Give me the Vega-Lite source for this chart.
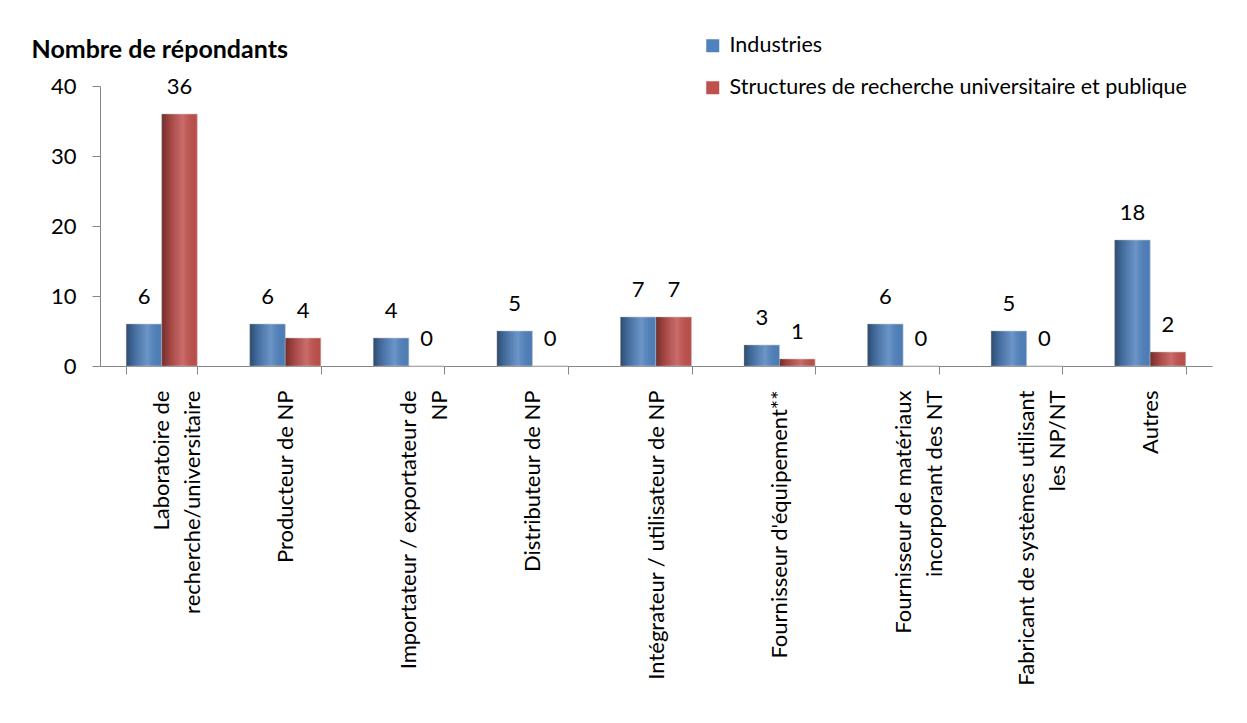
{
  "$schema": "https://vega.github.io/schema/vega-lite/v6.json",
  "autosize": {"type": "none"},
  "padding": {"left": 100, "top": 86, "right": 35, "bottom": 357},
  "width": 1112,
  "height": 280,
  "background": "white",
  "config": {
    "font": "Lato",
    "view": {"stroke": null},
    "axis": {"labelColor": "black", "titleColor": "black", "labelFont": "Lato", "titleFont": "Lato"},
    "legend": {"labelFont": "Lato"}
  },
  "data": {
    "values": [
      {"categorie": "Laboratoire de recherche/universitaire", "serie": "Industries", "n": 6},
      {"categorie": "Laboratoire de recherche/universitaire", "serie": "Structures de recherche universitaire et publique", "n": 36},
      {"categorie": "Producteur de NP", "serie": "Industries", "n": 6},
      {"categorie": "Producteur de NP", "serie": "Structures de recherche universitaire et publique", "n": 4},
      {"categorie": "Importateur / exportateur de NP", "serie": "Industries", "n": 4},
      {"categorie": "Importateur / exportateur de NP", "serie": "Structures de recherche universitaire et publique", "n": 0},
      {"categorie": "Distributeur de NP", "serie": "Industries", "n": 5},
      {"categorie": "Distributeur de NP", "serie": "Structures de recherche universitaire et publique", "n": 0},
      {"categorie": "Intégrateur / utilisateur de NP", "serie": "Industries", "n": 7},
      {"categorie": "Intégrateur / utilisateur de NP", "serie": "Structures de recherche universitaire et publique", "n": 7},
      {"categorie": "Fournisseur d'équipement**", "serie": "Industries", "n": 3},
      {"categorie": "Fournisseur d'équipement**", "serie": "Structures de recherche universitaire et publique", "n": 1},
      {"categorie": "Fournisseur de matériaux incorporant des NT", "serie": "Industries", "n": 6},
      {"categorie": "Fournisseur de matériaux incorporant des NT", "serie": "Structures de recherche universitaire et publique", "n": 0},
      {"categorie": "Fabricant de systèmes utilisant les NP/NT", "serie": "Industries", "n": 5},
      {"categorie": "Fabricant de systèmes utilisant les NP/NT", "serie": "Structures de recherche universitaire et publique", "n": 0},
      {"categorie": "Autres", "serie": "Industries", "n": 18},
      {"categorie": "Autres", "serie": "Structures de recherche universitaire et publique", "n": 2}
    ]
  },
  "encoding": {
    "x": {
      "field": "categorie",
      "type": "nominal",
      "sort": null,
      "scale": {"paddingInner": 0.425, "paddingOuter": 0.2125},
      "axis": {
        "title": null,
        "tickBand": "extent",
        "domainColor": "#868686",
        "tickColor": "#868686",
        "tickSize": 8,
        "labelAngle": 270,
        "labelAlign": "right",
        "labelBaseline": "middle",
        "labelFontSize": 22,
        "labelLineHeight": 31,
        "labelPadding": 16,
        "labelLimit": 500,
        "labelExpr": "datum.value == 'Laboratoire de recherche/universitaire' ? ['Laboratoire de', 'recherche/universitaire'] : datum.value == 'Importateur / exportateur de NP' ? ['Importateur / exportateur de', 'NP'] : datum.value == 'Fournisseur de matériaux incorporant des NT' ? ['Fournisseur de matériaux', 'incorporant des NT'] : datum.value == 'Fabricant de systèmes utilisant les NP/NT' ? ['Fabricant de systèmes utilisant', 'les NP/NT'] : datum.label"
      }
    },
    "xOffset": {"field": "serie", "type": "nominal", "sort": null, "scale": {"paddingInner": 0, "paddingOuter": 0}},
    "y": {
      "field": "n",
      "type": "quantitative",
      "scale": {"domain": [0, 40], "nice": false},
      "axis": {
        "values": [0, 10, 20, 30, 40],
        "grid": false,
        "domainColor": "#868686",
        "tickColor": "#868686",
        "tickSize": 8,
        "labelFontSize": 22,
        "labelPadding": 16,
        "title": "Nombre de répondants",
        "titleAngle": 0,
        "titleAlign": "left",
        "titleBaseline": "alphabetic",
        "titleX": -69,
        "titleY": -29,
        "titleFontSize": 25,
        "titleFontWeight": "bold"
      }
    }
  },
  "layer": [
    {
      "mark": {"type": "bar", "stroke": "#c9c9c9", "strokeWidth": 0.6},
      "encoding": {
        "color": {
          "field": "serie",
          "type": "nominal",
          "sort": null,
          "scale": {
            "domain": ["Industries", "Structures de recherche universitaire et publique"],
            "range": ["#4F81BD", "#C0504D"]
          },
          "legend": {
            "title": null,
            "orient": "none",
            "legendX": 602,
            "legendY": -51,
            "symbolType": "square",
            "symbolSize": 169,
            "symbolStrokeWidth": 0,
            "symbolOpacity": 1,
            "labelFontSize": 21.5,
            "labelColor": "black",
            "labelOffset": 6,
            "labelLimit": 600,
            "rowPadding": 19
          }
        }
      }
    },
    {
      "mark": {
        "type": "bar",
        "fill": {
          "gradient": "linear",
          "x1": 0, "y1": 0, "x2": 1, "y2": 0,
          "stops": [
            {"offset": 0, "color": "rgba(0,0,0,0.42)"},
            {"offset": 0.2, "color": "rgba(0,0,0,0.18)"},
            {"offset": 0.6, "color": "rgba(255,255,255,0.16)"},
            {"offset": 1, "color": "rgba(0,0,0,0.02)"}
          ]
        }
      },
      "encoding": {}
    },
    {
      "mark": {"type": "text", "baseline": "alphabetic", "dy": -20, "fontSize": 22, "color": "black", "font": "Lato"},
      "encoding": {"text": {"field": "n", "type": "quantitative"}}
    }
  ]
}
